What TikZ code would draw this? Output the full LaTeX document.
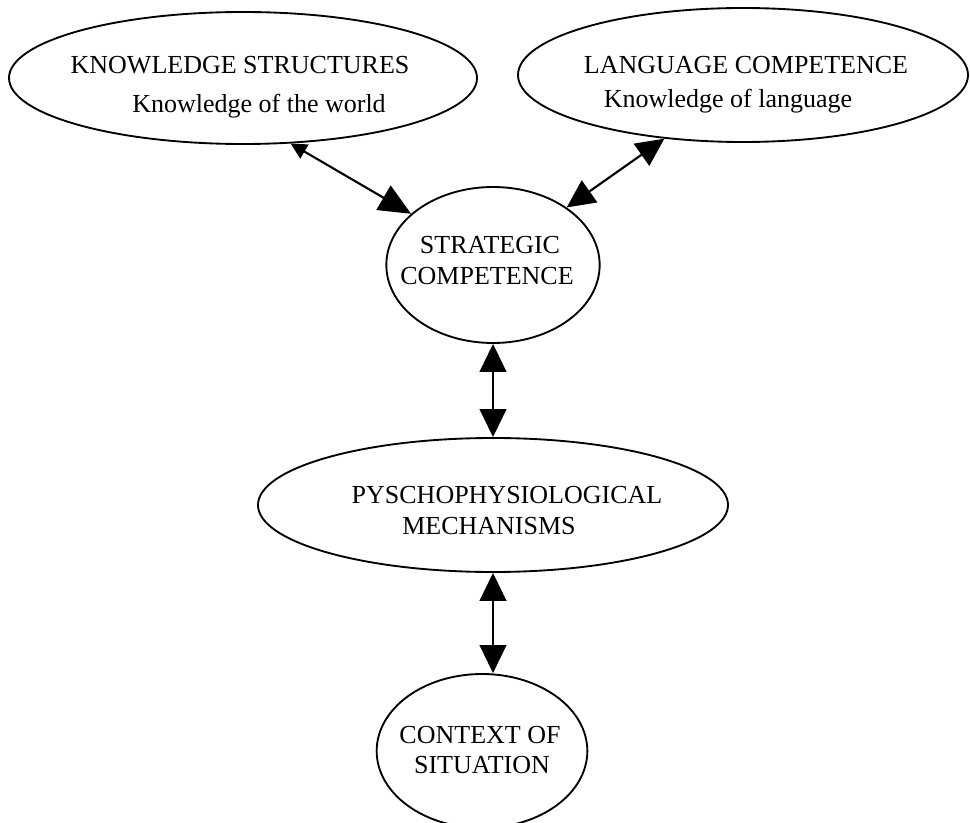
\documentclass[tikz,border=0pt]{standalone}
\usepackage{fontspec}
\setmainfont{Liberation Serif}
\usetikzlibrary{arrows.meta,shapes.geometric}
\begin{document}
\begin{tikzpicture}[x=0.75pt,y=-0.75pt,
  oval/.style={draw, ellipse, line width=1.4pt, inner sep=0pt},
  lbl/.style={inner sep=0pt, anchor=base, font=\fontsize{19.5}{23}\selectfont},
  link/.style={line width=1.6pt, {Triangle[length=21pt,width=20pt]}-{Triangle[length=21pt,width=20pt]}}]
\useasboundingbox (0,0) rectangle (970,823);
\node[oval, minimum width=351pt, minimum height=99pt] (ks) at (243,78) {};
\node[oval, minimum width=337.5pt, minimum height=100.5pt] (lc) at (743,75) {};
\node[oval, minimum width=160pt, minimum height=117pt] (sc) at (493,265) {};
\node[oval, minimum width=352.5pt, minimum height=100.5pt] (pe) at (493,505) {};
\node[oval, minimum width=158pt, minimum height=115.5pt] (cs) at (482,751) {};
\node[lbl] (ks1) at (240,74) {KNOWLEDGE STRUCTURES};
\node[lbl] (ks2) at (259,113) {Knowledge of the world};
\node[lbl] (lc1) at (746,74) {LANGUAGE COMPETENCE};
\node[lbl] (lc2) at (728,108) {Knowledge of language};
\node[lbl] (sc1) at (490,254) {STRATEGIC};
\node[lbl] (sc2) at (487,285) {COMPETENCE};
\node[lbl] (pe1) at (507,503) {PYSCHOPHYSIOLOGICAL};
\node[lbl] (pe2) at (489,534) {MECHANISMS};
\node[lbl] (cs1) at (480,743) {CONTEXT OF};
\node[lbl] (cs2) at (482,773) {SITUATION};
\draw[line width=1.6pt, {Triangle[length=12pt,width=12pt]}-{Triangle[length=24pt,width=21pt]}] (ks.-54) -- (sc.148);
\draw[link] (lc.-141) -- (sc.38.7);
\draw[link] (sc.south) -- (pe.north);
\draw[link] (pe.south) -- (pe.south |- cs.north);
\end{tikzpicture}
\end{document}
